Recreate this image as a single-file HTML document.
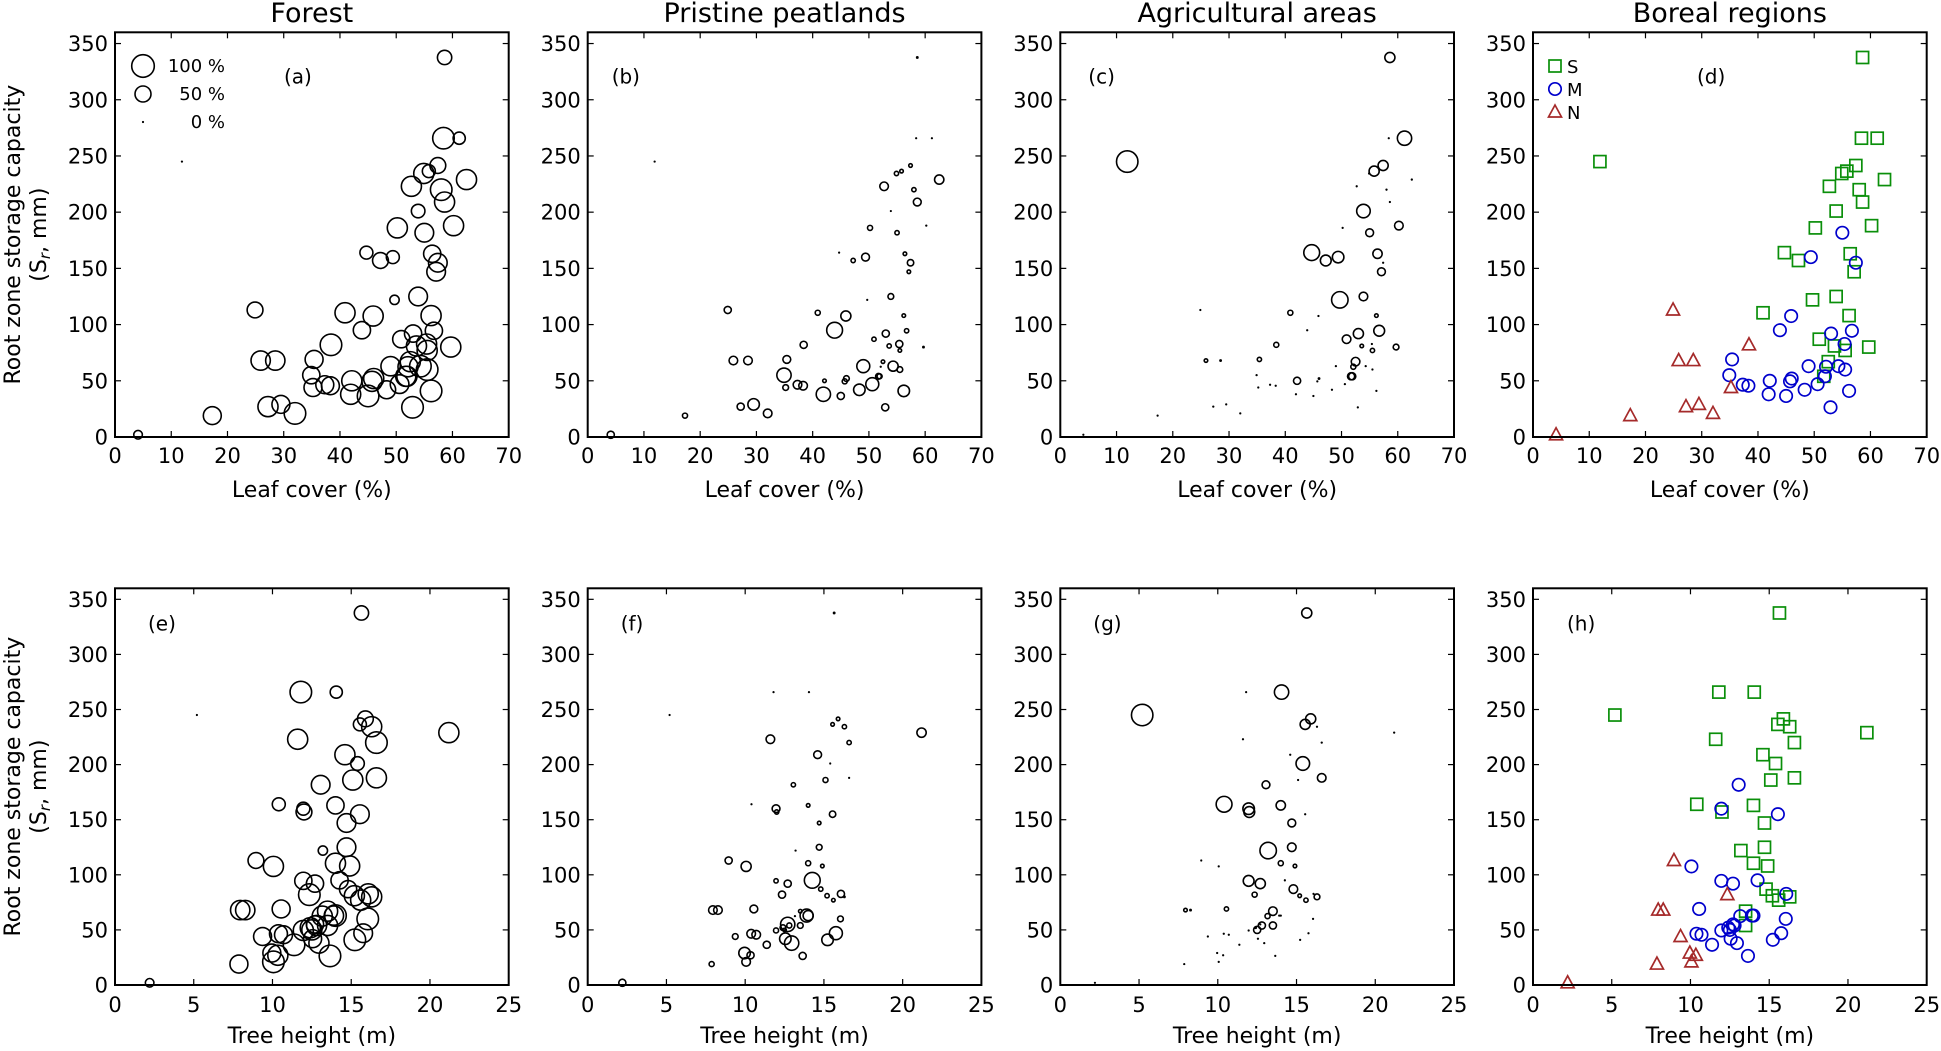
<!DOCTYPE html>
<html><head><meta charset="utf-8">
<style>
html,body{margin:0;padding:0;background:#fff;}
svg{display:block;font-family:"DejaVu Sans","Liberation Sans",sans-serif;}
</style></head>
<body>
<svg id="fig" width="1941" height="1051" viewBox="0 0 1941 1051" xmlns="http://www.w3.org/2000/svg"></svg>
<script>
// ---- data (one entry per catchment) ----
const leafCover = [11.9,58.6,58.4,61.2,57.4,54.9,55.8,52.7,62.5,58.0,58.6,53.9,60.2,50.2,44.7,47.2,56.4,57.1,49.7,53.9,40.9,56.2,50.9,53.6,55.5,59.7,52.5,51.7,
 55.0,49.4,57.4,45.9,43.9,53.0,56.7,55.4,35.4,34.9,37.3,38.3,42.1,41.9,45.7,46.0,45.0,48.3,49.0,50.6,52.1,51.9,54.3,55.5,56.2,52.9,
 4.1,17.3,24.9,25.9,28.5,27.2,29.5,32.0,35.2,38.4];
const treeHeight = [5.2,15.65,11.8,14.05,15.9,16.3,15.55,11.6,21.2,16.6,14.6,15.4,16.6,15.1,10.4,12.0,14.0,14.7,13.2,14.7,14.0,14.9,14.8,15.2,15.6,16.3,13.5,13.5,
 13.06,11.96,15.55,10.06,14.26,12.7,11.96,16.08,10.55,12.7,10.38,10.7,12.5,12.95,11.96,12.4,11.37,12.55,13.9,15.76,13.16,12.8,14.0,16.05,15.23,13.65,
 2.2,7.87,8.95,7.95,8.27,10.34,9.96,10.06,9.37,12.34];
const storage = [245,337.6,265.8,265.8,241.5,234.4,236.5,223,229,220,209,201,188,186,164,157,163,147,122,125,110.5,108,87,81,77,80,67,54,
 181.7,160,155,107.6,95,92,94.5,82.7,69,55,46.5,45.6,50,38,49.5,52,36.5,42,63,47,62.5,54,63,60,41,26.4,
 2,19,113,68,68,27,29,21,44,82];
const region = ['S','S','S','S','S','S','S','S','S','S','S','S','S','S','S','S','S','S','S','S','S','S','S','S','S','S','S','S',
 'M','M','M','M','M','M','M','M','M','M','M','M','M','M','M','M','M','M','M','M','M','M','M','M','M','M',
 'N','N','N','N','N','N','N','N','N','N'];
const forestPct = [0,40,91,29,49,79,33,79,79,91,79,36,79,79,33,49,58,68,17,68,79,79,58,79,79,79,79,79,
 68,33,68,79,58,58,58,79,63,58,63,63,79,79,79,79,91,63,73,68,79,79,91,91,91,91,
 14.5,63,49,73,73,79,63,91,63,91];
const peatPct = [0,1.6,0,0,2.5,3.6,2.5,14.5,17,3.6,12,0,1,5,0,3.6,2.5,2.5,0,6.5,5,2.5,3.6,3.6,2.5,1.6,2.5,6.5,
 3.6,12,8,20,49,10,3.6,10,12,40,14.5,14.5,2.5,40,5,6.5,10,26,33,33,1,5,20,6.5,26,10,
 10,5,10,14.5,14.5,10,26,14.5,6.5,10];
const agriPct = [90,20,0,40,20,1,20,1,1,1,1,36,14.5,1,49,23,17,12,53,14.5,5,2.5,14.5,2.5,3.6,6.5,14.5,10,
 12,26,1,1,1,20,23,1,3.6,1,1,1,10,1,1,1.6,1,1,1,1,5,10,1,1,1,1,
 0,0,0,2.5,1.6,1,1,1,1,5];
const xTicksLeaf = [0,10,20,30,40,50,60,70];
const xTicksHeight = [0,5,10,15,20,25];
const yTicks = [0,50,100,150,200,250,300,350];
const titles = ['Forest','Pristine peatlands','Agricultural areas','Boreal regions'];
const panelLetters = ['(a)','(b)','(c)','(d)','(e)','(f)','(g)','(h)'];

const NS='http://www.w3.org/2000/svg';
const svg=document.getElementById('fig');
function mk(tag,attrs,parent){const e=document.createElementNS(NS,tag);for(const k in attrs)e.setAttribute(k,attrs[k]);(parent||svg).appendChild(e);return e;}

const lefts=[115,587.7,1060.3,1533];
const W=393.7;
const rows=[{top:32.3,h:404.7,xmax:70,ticks:xTicksLeaf,xs:leafCover,xlabel:'Leaf cover (%)',tickBase:463,labBase:497},
            {top:588.3,h:396.7,xmax:25,ticks:xTicksHeight,xs:treeHeight,xlabel:'Tree height (m)',tickBase:1012,labBase:1043}];
const fracs=[forestPct,peatPct,agriPct];
const colors={S:'#0a8f0a',M:'#0000cc',N:'#a52a2a'};

function radius(p){return Math.max(1.1,11.3*Math.sqrt(p/100));}

function drawMarker(g,reg,cx,cy){
  let m;
  if(reg==='S'){m=mk('rect',{x:cx-6,y:cy-6,width:12,height:12,fill:'none',stroke:colors.S,'stroke-width':1.7},g);}
  else if(reg==='M'){m=mk('circle',{cx:cx,cy:cy,r:6.2,fill:'none',stroke:colors.M,'stroke-width':1.7},g);}
  else{m=mk('polygon',{points:`${cx},${cy-7} ${cx-6.5},${cy+5} ${cx+6.5},${cy+5}`,fill:'none',stroke:colors.N,'stroke-width':1.7},g);}
  return m;
}

rows.forEach((row,ri)=>{
  lefts.forEach((L,ci)=>{
    const pi=ri*4+ci;
    const g=mk('g',{});
    
    
    const T=row.top,H=row.h,B=T+H;
    const xs=v=>L+v/row.xmax*W;
    const ys=v=>B-v/360*H;
    row.ticks.forEach(t=>{
      const x=xs(t);
      mk('line',{x1:x,y1:B,x2:x,y2:B-6,stroke:'#000','stroke-width':1.2},g);
      mk('line',{x1:x,y1:T,x2:x,y2:T+6,stroke:'#000','stroke-width':1.2},g);
      const tl=mk('text',{x:x,y:row.tickBase,'font-size':21,'text-anchor':'middle'},g);
      tl.textContent=t;
      
      
    });
    yTicks.forEach(t=>{
      const y=ys(t);
      mk('line',{x1:L,y1:y,x2:L+6,y2:y,stroke:'#000','stroke-width':1.2},g);
      mk('line',{x1:L+W,y1:y,x2:L+W-6,y2:y,stroke:'#000','stroke-width':1.2},g);
      const tl=mk('text',{x:L-7,y:y+7.5,'font-size':21,'text-anchor':'end'},g);
      tl.textContent=t;
      
      
    });
    for(let i=0;i<storage.length;i++){
      const cx=xs(row.xs[i]),cy=ys(storage[i]);
      let m;
      if(ci<3){
        const r=radius(fracs[ci][i]);
        m=mk('circle',{cx:cx,cy:cy,r:r,fill:r<1.6?'#000':'none',stroke:'#000','stroke-width':r<1.6?0:1.6},g);
      } else {
        m=drawMarker(g,region[i],cx,cy);
      }
      
      
    }
    const fr=mk('rect',{x:L,y:T,width:W,height:H,fill:'none',stroke:'#000','stroke-width':2},g);
    
    
    const lx=(ri===0)?[169,24,28,164][ci]:[33,33,33,34][ci];
    const ly=(ri===0)?T+51:T+42;
    const pl=mk('text',{x:L+lx,y:ly,'font-size':20},g);
    pl.textContent=panelLetters[pi];
    
    
    const xl=mk('text',{x:L+W/2,y:row.labBase,'font-size':22,'text-anchor':'middle'},g);
    xl.textContent=row.xlabel;
    
    
    if(ri===0){
      const tt=mk('text',{x:L+W/2,y:22,'font-size':27,'text-anchor':'middle'},g);
      tt.textContent=titles[ci];
      
      
    }
    if(ci===0){
      const cyM=T+H/2;
      const yl=mk('text',{x:0,y:0,'font-size':22,'text-anchor':'middle',transform:`translate(20,${cyM}) rotate(-90)`},g);
      yl.textContent='Root zone storage capacity';
      
      
      const y2=mk('text',{x:0,y:0,'font-size':22,'text-anchor':'middle',transform:`translate(46,${cyM}) rotate(-90)`},g);
      y2.innerHTML='(S<tspan font-style="italic" font-size="15" dy="4">r</tspan><tspan dy="-4">, mm)</tspan>';
      
      
    }
  });
});

const lg=mk('g',{});


[[100,66],[50,94],[0,122]].forEach(([p,y])=>{
  const r=radius(p);
  const c=mk('circle',{cx:143,cy:y,r:r,fill:r<1.6?'#000':'none',stroke:'#000','stroke-width':r<1.6?0:1.6},lg);
  
  
  const t=mk('text',{x:225,y:y+6,'font-size':18,'text-anchor':'end'},lg);
  t.textContent=p+' %';
  
  
});
const rg=mk('g',{});


[['S',66],['M',89],['N',112]].forEach(([r,y])=>{
  const m=drawMarker(rg,r,1555,y);
  
  
  const t=mk('text',{x:1567,y:y+7,'font-size':18},rg);
  t.textContent=r;
  
  
});
</script>
</body></html>
